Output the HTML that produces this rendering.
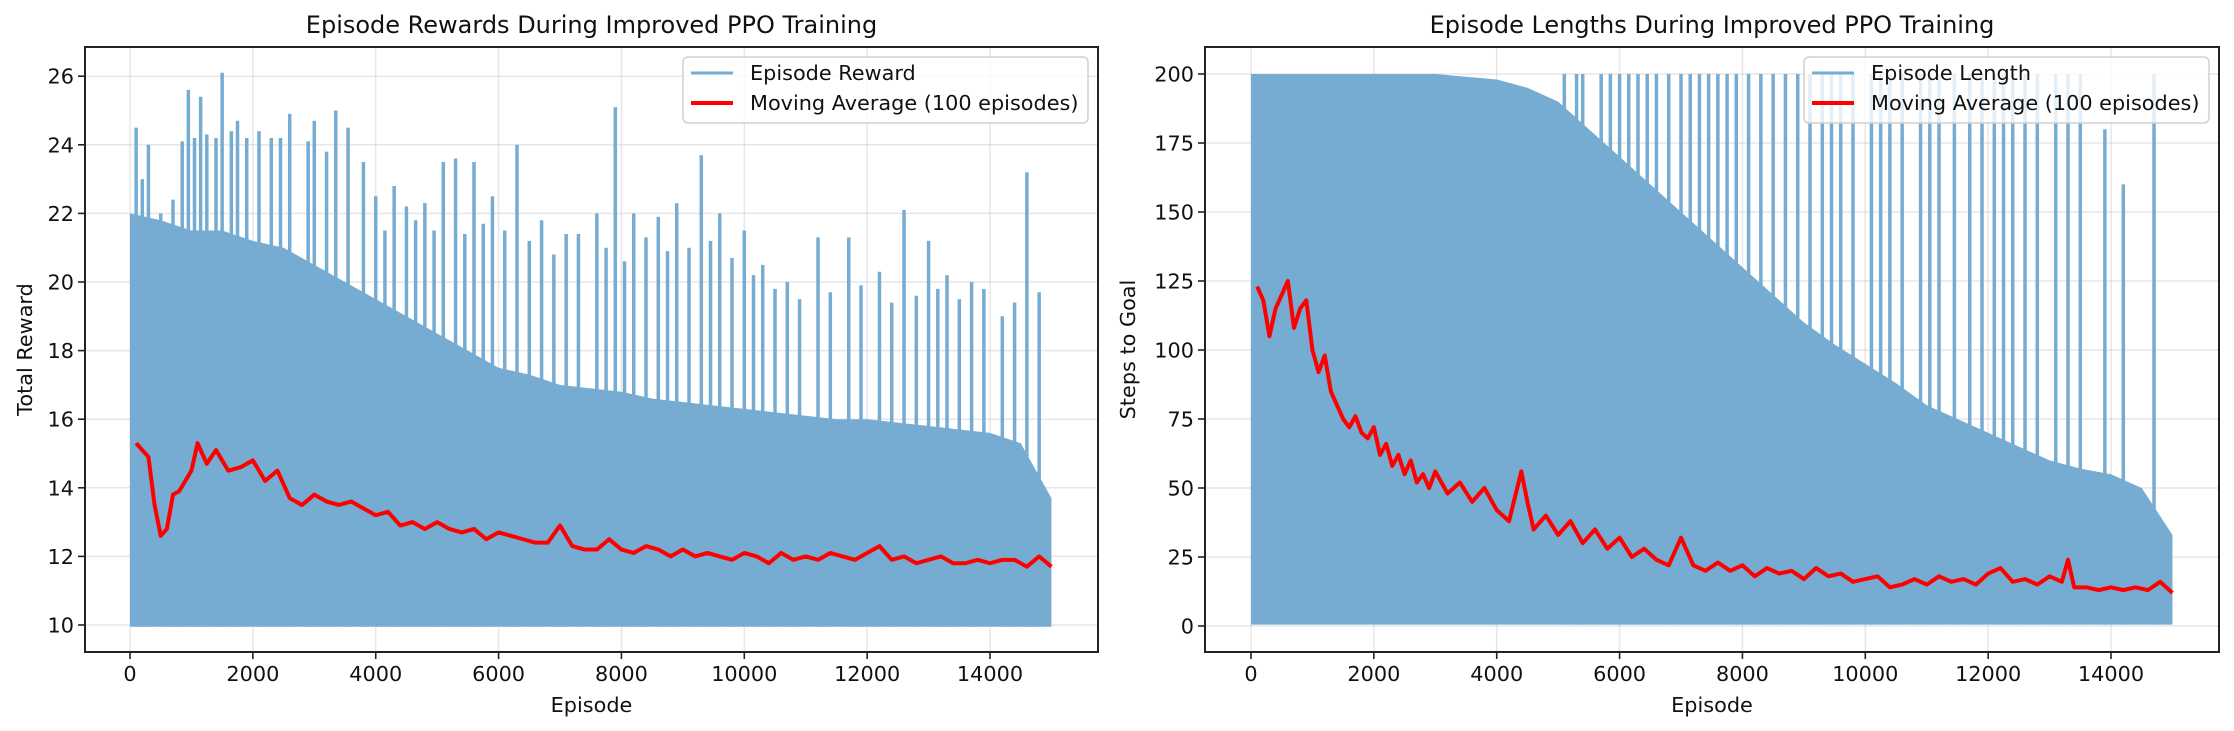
<!DOCTYPE html>
<html><head><meta charset="utf-8">
<style>
html,body{margin:0;padding:0;background:#fff;}
svg{display:block;font-family:"DejaVu Sans","Liberation Sans",sans-serif;}
</style></head>
<body>
<svg id="fig" width="2234" height="731" viewBox="0 0 2234 731" xmlns="http://www.w3.org/2000/svg"></svg>
<script>
// ---- Reward chart data ----
const rewardEnvEpisodes = [0,500,1000,1500,2000,2500,3000,3500,4000,4500,5000,5500,6000,6500,7000,7500,8000,8500,9000,9500,10000,10500,11000,11500,12000,12500,13000,13500,14000,14500,15000];
const rewardEnvTop = [22,21.8,21.5,21.5,21.2,21,20.5,20,19.5,19,18.5,18,17.5,17.3,17,16.9,16.8,16.6,16.5,16.4,16.3,16.2,16.1,16,16,15.9,15.8,15.7,15.6,15.3,13.7];
const rewardSpikeEpisodes = [100,200,300,500,700,850,950,1050,1150,1250,1400,1500,1650,1750,1900,2100,2300,2450,2600,2900,3000,3200,3350,3550,3800,4000,4150,4300,4500,4650,4800,4950,5100,5300,5450,5600,5750,5900,6100,6300,6500,6700,6900,7100,7300,7600,7750,7900,8050,8200,8400,8600,8750,8900,9100,9300,9450,9600,9800,10000,10150,10300,10500,10700,10900,11200,11400,11700,11900,12200,12400,12600,12800,13000,13150,13300,13500,13700,13900,14200,14400,14600,14800];
const rewardSpikeValues = [24.5,23,24,22,22.4,24.1,25.6,24.2,25.4,24.3,24.2,26.1,24.4,24.7,24.2,24.4,24.2,24.2,24.9,24.1,24.7,23.8,25,24.5,23.5,22.5,21.5,22.8,22.2,21.8,22.3,21.5,23.5,23.6,21.4,23.5,21.7,22.5,21.5,24,21.2,21.8,20.8,21.4,21.4,22,21,25.1,20.6,22,21.3,21.9,20.9,22.3,21,23.7,21.2,22,20.7,21.5,20.2,20.5,19.8,20,19.5,21.3,19.7,21.3,19.9,20.3,19.4,22.1,19.6,21.2,19.8,20.2,19.5,20,19.8,19,19.4,23.2,19.7];
const rewardMaEpisodes = [100,200,300,400,500,600,700,800,1000,1100,1250,1400,1600,1800,2000,2200,2400,2600,2800,3000,3200,3400,3600,3800,4000,4200,4400,4600,4800,5000,5200,5400,5600,5800,6000,6200,6400,6600,6800,7000,7200,7400,7600,7800,8000,8200,8400,8600,8800,9000,9200,9400,9600,9800,10000,10200,10400,10600,10800,11000,11200,11400,11600,11800,12000,12200,12400,12600,12800,13000,13200,13400,13600,13800,14000,14200,14400,14600,14800,15000];
const rewardMaValues = [15.3,15.1,14.9,13.5,12.6,12.8,13.8,13.9,14.5,15.3,14.7,15.1,14.5,14.6,14.8,14.2,14.5,13.7,13.5,13.8,13.6,13.5,13.6,13.4,13.2,13.3,12.9,13.0,12.8,13.0,12.8,12.7,12.8,12.5,12.7,12.6,12.5,12.4,12.4,12.9,12.3,12.2,12.2,12.5,12.2,12.1,12.3,12.2,12.0,12.2,12.0,12.1,12.0,11.9,12.1,12.0,11.8,12.1,11.9,12.0,11.9,12.1,12.0,11.9,12.1,12.3,11.9,12.0,11.8,11.9,12.0,11.8,11.8,11.9,11.8,11.9,11.9,11.7,12.0,11.7];
const rewardYTicks = [10,12,14,16,18,20,22,24,26];

// ---- Length chart data ----
const lengthEnvEpisodes = [0,500,1000,1500,2000,2500,3000,3500,4000,4500,5000,5500,6000,6500,7000,7500,8000,8500,9000,9500,10000,10500,11000,11500,12000,12500,13000,13500,14000,14500,15000];
const lengthEnvTop = [200,200,200,200,200,200,200,199,198,195,190,180,170,160,150,140,130,120,110,102,95,88,80,75,70,65,60,57,55,50,33];
const lengthSpikeEpisodes = [5100,5300,5400,5700,5850,6000,6150,6300,6450,6600,6800,7000,7150,7300,7450,7600,7750,7900,8100,8300,8500,8700,8900,9100,9300,9450,9600,9800,10100,10250,10400,10600,10900,11050,11200,11450,11700,11900,12100,12250,12400,12600,12800,13100,13300,13500,13900,14200,14700];
const lengthSpikeValues = [200,200,200,200,200,200,200,200,200,200,200,200,200,200,200,200,200,200,200,200,200,200,200,200,200,200,200,200,200,200,200,200,200,200,200,200,200,200,200,200,200,200,200,200,200,200,180,160,200];
const lengthMaEpisodes = [100,200,300,400,500,600,700,800,900,1000,1100,1200,1300,1400,1500,1600,1700,1800,1900,2000,2100,2200,2300,2400,2500,2600,2700,2800,2900,3000,3200,3400,3600,3800,4000,4200,4400,4500,4600,4800,5000,5200,5400,5600,5800,6000,6200,6400,6600,6800,7000,7200,7400,7600,7800,8000,8200,8400,8600,8800,9000,9200,9400,9600,9800,10000,10200,10400,10600,10800,11000,11200,11400,11600,11800,12000,12200,12400,12600,12800,13000,13200,13300,13400,13600,13800,14000,14200,14400,14600,14800,15000];
const lengthMaValues = [123,118,105,115,120,125,108,115,118,100,92,98,85,80,75,72,76,70,68,72,62,66,58,62,55,60,52,55,50,56,48,52,45,50,42,38,56,45,35,40,33,38,30,35,28,32,25,28,24,22,32,22,20,23,20,22,18,21,19,20,17,21,18,19,16,17,18,14,15,17,15,18,16,17,15,19,21,16,17,15,18,16,24,14,14,13,14,13,14,13,16,12];
const lengthYTicks = [0,25,50,75,100,125,150,175,200];

const xTicks = [0,2000,4000,6000,8000,10000,12000,14000];

const NS = "http://www.w3.org/2000/svg";
const fig = document.getElementById('fig');
function el(tag, attrs, parent){
  const e = document.createElementNS(NS, tag);
  for (const k in attrs) e.setAttribute(k, attrs[k]);
  (parent||fig).appendChild(e);
  return e;
}
const RAW = '#76abd2';

function drawChart(cfg){
  const g = el('g', {});
  
  
  const L=cfg.left, R=cfg.right, T=47, B=652;
  const xs = v => cfg.x0 + v*(61.43/1000);
  const ys = v => cfg.y0 - (v-cfg.yBase)*cfg.yScale;
  xTicks.forEach(t=>{
    const gl = el('line',{x1:xs(t),x2:xs(t),y1:T,y2:B,stroke:'#b0b0b0','stroke-opacity':0.3,'stroke-width':1.5},g);
    
    
  });
  cfg.yTicks.forEach(t=>{
    const gl = el('line',{x1:L,x2:R,y1:ys(t),y2:ys(t),stroke:'#b0b0b0','stroke-opacity':0.3,'stroke-width':1.5},g);
    
    
  });
  let d = 'M'+xs(cfg.envEp[0])+','+ys(cfg.base);
  cfg.envEp.forEach((e,i)=>{ d += ' L'+xs(e)+','+ys(cfg.envTop[i]); });
  d += ' L'+xs(cfg.envEp[cfg.envEp.length-1])+','+ys(cfg.base)+' Z';
  const area = el('path',{d:d,fill:RAW},g);
  
  
  cfg.spEp.forEach((e,i)=>{
    const s = el('line',{x1:xs(e),x2:xs(e),y1:ys(cfg.base),y2:ys(cfg.spVal[i]),stroke:RAW,'stroke-width':3.5},g);
    
    
  });
  let md='';
  cfg.maEp.forEach((e,i)=>{ md += (i?' L':'M')+xs(e)+','+ys(cfg.maVal[i]); });
  const ma = el('path',{d:md,fill:'none',stroke:'#ff0000','stroke-width':4,'stroke-linejoin':'round'},g);
  
  
  const sp = el('rect',{x:L,y:T,width:R-L,height:B-T,fill:'none',stroke:'#222','stroke-width':2},g);
  
  
  xTicks.forEach(t=>{
    el('line',{x1:xs(t),x2:xs(t),y1:B,y2:B+7,stroke:'#222','stroke-width':1.6},g);
    const tx = el('text',{x:xs(t),y:B+29,'font-size':20.8,'text-anchor':'middle',fill:'#111'},g);
    tx.textContent = t;
    
    
  });
  cfg.yTicks.forEach(t=>{
    el('line',{x1:L-7,x2:L,y1:ys(t),y2:ys(t),stroke:'#222','stroke-width':1.6},g);
    const tx = el('text',{x:L-11,y:ys(t)+7.5,'font-size':20.8,'text-anchor':'end',fill:'#111'},g);
    tx.textContent = t;
    
    
  });
  const ti = el('text',{x:(L+R)/2,y:33,'font-size':24,'text-anchor':'middle',fill:'#111'},g);
  ti.textContent = cfg.title;
  
  
  const xl = el('text',{x:(L+R)/2,y:712,'font-size':20.8,'text-anchor':'middle',fill:'#111'},g);
  xl.textContent = 'Episode';
  
  
  const yl = el('text',{x:0,y:0,'font-size':20.8,'text-anchor':'middle',fill:'#111',transform:'translate('+cfg.ylX+','+((T+B)/2)+') rotate(-90)'},g);
  yl.textContent = cfg.ylabel;
  
  
  const lg = el('g',{},g);
  
  
  const lx = R-10-405;
  el('rect',{x:lx,y:57,width:405,height:66,rx:5,fill:'#fff','fill-opacity':0.8,stroke:'#d0d0d0','stroke-width':1.5},lg);
  el('line',{x1:lx+8,x2:lx+50,y1:73,y2:73,stroke:RAW,'stroke-width':3},lg);
  el('line',{x1:lx+8,x2:lx+50,y1:103,y2:103,stroke:'#ff0000','stroke-width':4},lg);
  const t1 = el('text',{x:lx+67,y:80,'font-size':20.8,fill:'#111'},lg);
  t1.textContent = cfg.legend1;
  
  
  const t2 = el('text',{x:lx+67,y:110,'font-size':20.8,fill:'#111'},lg);
  t2.textContent = 'Moving Average (100 episodes)';
  
  
}

drawChart({name:'reward-chart',left:85,right:1098,x0:130,y0:625,yBase:10,yScale:34.3,base:9.95,
  yTicks:rewardYTicks,envEp:rewardEnvEpisodes,envTop:rewardEnvTop,spEp:rewardSpikeEpisodes,spVal:rewardSpikeValues,
  maEp:rewardMaEpisodes,maVal:rewardMaValues,title:'Episode Rewards During Improved PPO Training',
  ylabel:'Total Reward',ylX:32,legend1:'Episode Reward'});
drawChart({name:'length-chart',left:1205,right:2219,x0:1251,y0:626,yBase:0,yScale:2.76,base:0.5,
  yTicks:lengthYTicks,envEp:lengthEnvEpisodes,envTop:lengthEnvTop,spEp:lengthSpikeEpisodes,spVal:lengthSpikeValues,
  maEp:lengthMaEpisodes,maVal:lengthMaValues,title:'Episode Lengths During Improved PPO Training',
  ylabel:'Steps to Goal',ylX:1135,legend1:'Episode Length'});
</script>
</body></html>
